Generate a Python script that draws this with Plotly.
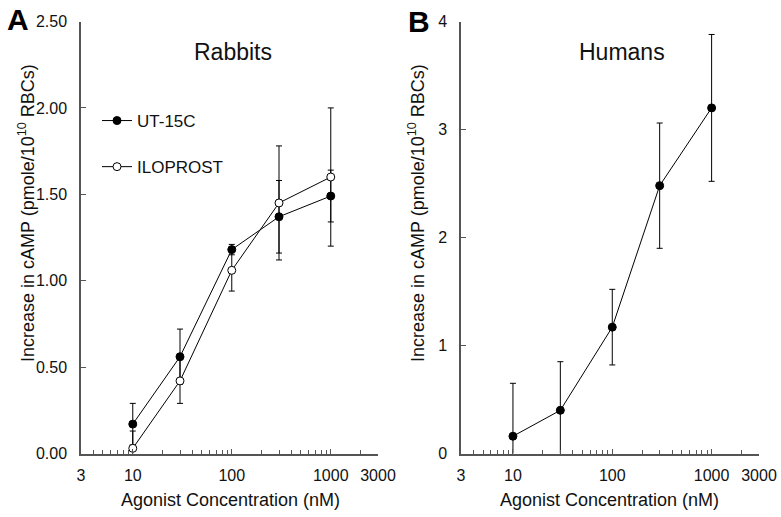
import plotly.graph_objects as go

# ---------------- data ----------------
conc = [10, 30, 100, 300, 1000]

ut15c_mean = [0.17, 0.56, 1.18, 1.37, 1.49]
ut15c_err = [0.12, 0.16, 0.03, 0.21, 0.15]
iloprost_mean = [0.03, 0.42, 1.06, 1.45, 1.60]
iloprost_err = [0.10, 0.13, 0.12, 0.33, 0.40]

human_mean = [0.16, 0.40, 1.17, 2.48, 3.20]
human_err = [0.49, 0.45, 0.35, 0.58, 0.68]

x_tickvals = [3, 10, 100, 1000, 3000]
x_ticktext = ["3", "10", "100", "1000", "3000"]
x_minor = [4, 5, 6, 7, 8, 9, 20, 30, 40, 50, 60, 70, 80, 90,
           200, 300, 400, 500, 600, 700, 800, 900, 2000]

yA_tickvals = [0, 0.5, 1.0, 1.5, 2.0, 2.5]
yA_ticktext = ["0.00", "0.50", "1.00", "1.50", "2.00", "2.50"]
yB_tickvals = [0, 1, 2, 3, 4]
yB_ticktext = ["0", "1", "2", "3", "4"]

# ---------------- style ----------------
FONT = "Liberation Sans, Arial, Helvetica, sans-serif"
W, H = 781, 517
AXC = "#555555"
TXT = "#111111"

def px_x(p):
    return p / W

def px_y(p):
    return 1 - p / H

fig = go.Figure()

def err(arr):
    return dict(type="data", array=arr, visible=True, color="black",
                thickness=1, width=3)

fig.add_trace(go.Scatter(
    x=conc, y=ut15c_mean, error_y=err(ut15c_err), mode="lines+markers",
    name="UT-15C", legendgroup="a",
    line=dict(color="black", width=1),
    marker=dict(symbol="circle", size=8, color="black",
                line=dict(color="black", width=1)),
    xaxis="x", yaxis="y"))

fig.add_trace(go.Scatter(
    x=conc, y=iloprost_mean, error_y=err(iloprost_err), mode="lines+markers",
    name="ILOPROST", legendgroup="b",
    line=dict(color="black", width=1),
    marker=dict(symbol="circle", size=8, color="white",
                line=dict(color="black", width=1)),
    xaxis="x", yaxis="y"))

fig.add_trace(go.Scatter(
    x=conc, y=human_mean, error_y=err(human_err), mode="lines+markers",
    name="Humans", showlegend=False,
    line=dict(color="black", width=1),
    marker=dict(symbol="circle", size=8, color="black",
                line=dict(color="black", width=1)),
    xaxis="x2", yaxis="y2"))

def xaxis(domain, anchor):
    return dict(
        type="log", domain=domain, anchor=anchor,
        range=[0.47712, 3.47712], automargin=False,
        tickmode="array", tickvals=x_tickvals, ticktext=x_ticktext,
        ticks="inside", ticklen=5, tickwidth=1, tickcolor=AXC,
        minor=dict(tickmode="array", tickvals=x_minor, ticks="inside",
                   ticklen=4, tickwidth=1, tickcolor=AXC),
        showline=True, linecolor=AXC, linewidth=1.5,
        showgrid=False, zeroline=False,
        tickfont=dict(family=FONT, size=16, color=TXT),
        ticklabelstandoff=7,
    )

def yaxis(domain, anchor, rng, tv, tt):
    return dict(
        domain=domain, anchor=anchor, range=rng, automargin=False,
        tickmode="array", tickvals=tv, ticktext=tt,
        ticks="inside", ticklen=5, tickwidth=1, tickcolor=AXC,
        showline=True, linecolor=AXC, linewidth=1.5,
        showgrid=False, zeroline=False,
        tickfont=dict(family=FONT, size=16, color=TXT),
        ticklabelstandoff=9,
    )

ydom = [px_y(453.5), px_y(21.5)]

fig.update_layout(
    width=W, height=H,
    margin=dict(l=0, r=0, t=0, b=0, autoexpand=False),
    paper_bgcolor="white", plot_bgcolor="white",
    font=dict(family=FONT, color=TXT),
    xaxis=xaxis([px_x(81), px_x(378)], "y"),
    yaxis=yaxis(ydom, "x", [0, 2.5], yA_tickvals, yA_ticktext),
    xaxis2=xaxis([px_x(461), px_x(759)], "y2"),
    yaxis2=yaxis(ydom, "x2", [0, 4], yB_tickvals, yB_ticktext),
    showlegend=True,
    legend=dict(x=px_x(97), y=px_y(103), xanchor="left", yanchor="top",
                bgcolor="rgba(0,0,0,0)", borderwidth=0,
                font=dict(family=FONT, size=17, color=TXT),
                tracegroupgap=21),
)

ytitle = "Increase in cAMP (pmole/10<sup>10</sup> RBCs)"
xtitle = "Agonist Concentration (nM)"

ann = [
    dict(text="A", x=px_x(18), y=px_y(19), font=dict(size=30, family=FONT, color="black"),
         bold=True),
    dict(text="B", x=px_x(419), y=px_y(22), font=dict(size=30, family=FONT, color="black"),
         bold=True),
    dict(text="Rabbits", x=px_x(233), y=px_y(52), font=dict(size=23, family=FONT, color=TXT)),
    dict(text="Humans", x=px_x(622), y=px_y(52), font=dict(size=23, family=FONT, color=TXT)),
    dict(text=xtitle, x=px_x(230), y=px_y(500), font=dict(size=18, family=FONT, color=TXT)),
    dict(text=xtitle, x=px_x(609), y=px_y(500), font=dict(size=18, family=FONT, color=TXT)),
    dict(text=ytitle, x=px_x(26), y=px_y(213), textangle=-90,
         font=dict(size=18, family=FONT, color=TXT)),
    dict(text=ytitle, x=px_x(416), y=px_y(213), textangle=-90,
         font=dict(size=18, family=FONT, color=TXT)),
]
for a in ann:
    bold = a.pop("bold", False)
    if bold:
        a["text"] = "<b>" + a["text"] + "</b>"
    a.update(xref="paper", yref="paper", showarrow=False,
             xanchor="center", yanchor="middle")
    fig.add_annotation(**a)

fig.write_html(
    "out.html",
    config={"displayModeBar": False},
    post_script="document.body.style.margin='0';document.body.style.overflow='hidden';",
)
